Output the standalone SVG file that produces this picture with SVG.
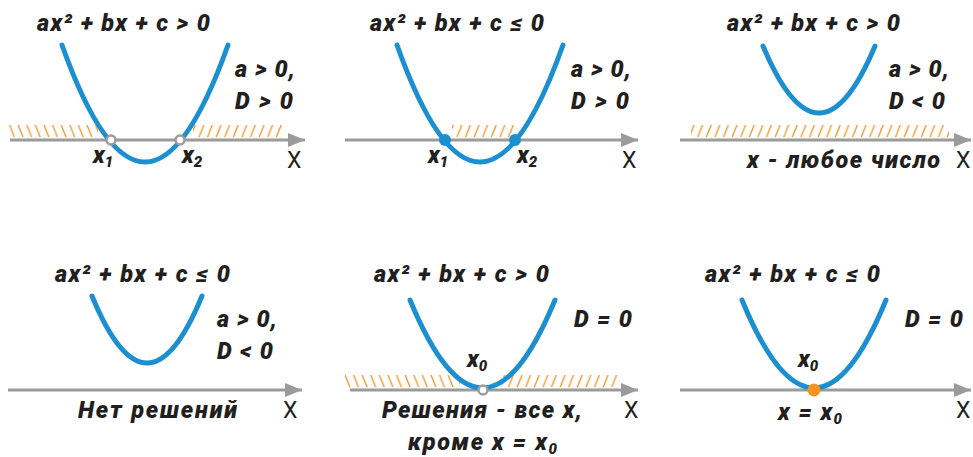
<svg xmlns="http://www.w3.org/2000/svg" width="973" height="457" viewBox="0 0 973 457">
<style>
.t{font-family:Roboto,"Liberation Sans",sans-serif;font-weight:900;font-style:italic;font-size:23.5px;fill:#231f20}
.ax{font-family:Roboto,"Liberation Sans",sans-serif;font-size:23px;fill:#231f20}
.sub{font-size:15px}
.axis{stroke:#9b9b9b;stroke-width:3;fill:none;marker-end:url(#arr)}
.par{stroke:#1b8fd0;stroke-width:5;fill:none;stroke-linecap:round}
.open{fill:#fff;stroke:#9b9b9b;stroke-width:2.5}
</style>
<defs>
<marker id="arr" markerUnits="userSpaceOnUse" markerWidth="18" markerHeight="14" refX="17" refY="7" orient="auto">
<path d="M0,0 L17,7 L0,14 Z" fill="#9b9b9b"/>
</marker>
<pattern id="hf" patternUnits="userSpaceOnUse" x="0" y="125" width="8.6" height="12.5">
<line x1="1" y1="12.5" x2="6" y2="0" stroke="#f7931e" stroke-width="1.3"/>
</pattern>
<pattern id="hb" patternUnits="userSpaceOnUse" x="0" y="125" width="8.6" height="12.5">
<line x1="1" y1="0" x2="6" y2="12.5" stroke="#f7931e" stroke-width="1.3"/>
</pattern>
</defs>

<g id="panel1">
<rect x="8" y="125" width="90" height="12.5" fill="url(#hb)"/>
<rect x="193" y="125" width="91" height="12.5" fill="url(#hf)"/>
<path class="axis" d="M10,140 H305"/>
<path class="par" d="M62,45 Q145,279 228,45"/>
<circle class="open" cx="111" cy="140" r="4.5"/>
<circle class="open" cx="180" cy="140" r="4.5"/>
<text class="t" x="37" y="31" textLength="173" lengthAdjust="spacing">ax² + bx + c &gt; 0</text>
<text class="t" x="235" y="77" textLength="60" lengthAdjust="spacing">a &gt; 0,</text>
<text class="t" x="235" y="109" textLength="58" lengthAdjust="spacing">D &gt; 0</text>
<text class="t" x="93" y="163">x<tspan class="sub" dy="4">1</tspan></text>
<text class="t" x="182" y="163">x<tspan class="sub" dy="4">2</tspan></text>
<text class="ax" x="287" y="168">X</text>
</g>

<g id="panel2">
<rect x="452" y="125" width="65" height="12.5" fill="url(#hf)"/>
<path class="axis" d="M345,140 H638"/>
<path class="par" d="M397,45 Q480,279 563,45"/>
<circle cx="445" cy="140" r="6" fill="#1b8fd0"/>
<circle cx="515" cy="140" r="6" fill="#1b8fd0"/>
<text class="t" x="370" y="31" textLength="174" lengthAdjust="spacing">ax² + bx + c ≤ 0</text>
<text class="t" x="571" y="77" textLength="60" lengthAdjust="spacing">a &gt; 0,</text>
<text class="t" x="571" y="109" textLength="58" lengthAdjust="spacing">D &gt; 0</text>
<text class="t" x="428" y="163">x<tspan class="sub" dy="4">1</tspan></text>
<text class="t" x="517" y="163">x<tspan class="sub" dy="4">2</tspan></text>
<text class="ax" x="622" y="168">X</text>
</g>

<g id="panel3">
<rect x="691" y="125" width="258" height="12.5" fill="url(#hf)"/>
<path class="axis" d="M680,140 H971"/>
<path class="par" d="M763,46 Q819,180 875,46"/>
<text class="t" x="727" y="31" textLength="173" lengthAdjust="spacing">ax² + bx + c &gt; 0</text>
<text class="t" x="889" y="77" textLength="60" lengthAdjust="spacing">a &gt; 0,</text>
<text class="t" x="889" y="109" textLength="56" lengthAdjust="spacing">D &lt; 0</text>
<text class="t" x="747" y="168" textLength="193" lengthAdjust="spacing">x - любое число</text>
<text class="ax" x="956" y="168">X</text>
</g>

<g id="panel4">
<path class="axis" d="M8,390 H302"/>
<path class="par" d="M92,296 Q147,430 202,296"/>
<text class="t" x="55" y="282" textLength="175" lengthAdjust="spacing">ax² + bx + c ≤ 0</text>
<text class="t" x="217" y="327" textLength="60" lengthAdjust="spacing">a &gt; 0,</text>
<text class="t" x="217" y="359" textLength="56" lengthAdjust="spacing">D &lt; 0</text>
<text class="t" x="78" y="418" textLength="159" lengthAdjust="spacing">Нет решений</text>
<text class="ax" x="283" y="418">X</text>
</g>

<g id="panel5">
<rect x="345" y="375" width="115" height="12.5" fill="url(#hb)"/>
<rect x="503" y="375" width="115" height="12.5" fill="url(#hf)"/>
<path class="axis" d="M350,390 H638"/>
<path class="par" d="M410,300 Q482.5,476 555,300"/>
<circle class="open" cx="483" cy="390" r="4.5"/>
<text class="t" x="374" y="282" textLength="175" lengthAdjust="spacing">ax² + bx + c &gt; 0</text>
<text class="t" x="574" y="327" textLength="58" lengthAdjust="spacing">D = 0</text>
<text class="t" x="467" y="367">x<tspan class="sub" dy="4">0</tspan></text>
<text class="t" x="382" y="418" textLength="200" lengthAdjust="spacing">Решения - все x,</text>
<text class="t" x="408" y="450" textLength="149" lengthAdjust="spacing">кроме x = x<tspan class="sub" dy="4">0</tspan></text>
<text class="ax" x="624" y="418">X</text>
</g>

<g id="panel6">
<path class="axis" d="M680,390 H971"/>
<path class="par" d="M742,300 Q814,476 886,300"/>
<circle cx="814" cy="390" r="6.5" fill="#f7931e"/>
<text class="t" x="705" y="282" textLength="175" lengthAdjust="spacing">ax² + bx + c ≤ 0</text>
<text class="t" x="905" y="327" textLength="58" lengthAdjust="spacing">D = 0</text>
<text class="t" x="798" y="367">x<tspan class="sub" dy="4">0</tspan></text>
<text class="t" x="778" y="420" textLength="64" lengthAdjust="spacing">x = x<tspan class="sub" dy="4">0</tspan></text>
<text class="ax" x="956" y="418">X</text>
</g>
</svg>
